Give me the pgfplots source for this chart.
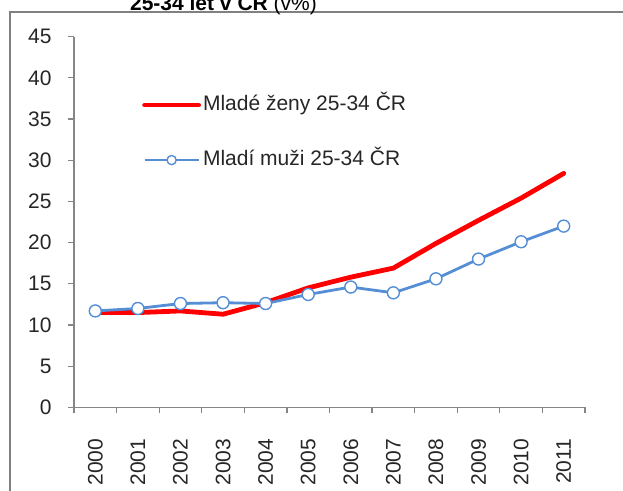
\documentclass[border=0pt]{standalone}
\usepackage{fontspec}
\setmainfont{Liberation Sans}
\usepackage{pgfplots}
\pgfplotsset{compat=1.18}
\definecolor{zeny}{HTML}{FF0000}
\definecolor{muzi}{HTML}{558ED5}
\definecolor{osa}{HTML}{868686}
\definecolor{ramec}{HTML}{808080}
\begin{document}
\begin{tikzpicture}
\useasboundingbox (0,0) rectangle (311.5pt,245.5pt);
\clip (0,0) rectangle (311.5pt,245.5pt);
\draw[color=ramec, line width=1pt] (5pt,-2pt) -- (5pt,239.35pt) -- (314pt,239.35pt);
\node[anchor=base, font=\fontsize{10.5}{12}\selectfont, inner sep=0pt]
  at (111.75pt,240pt) {\textbf{25-34 let v ČR} (v\%)};
\begin{axis}[
    at={(37pt,41.85pt)}, anchor=south west,
    scale only axis, width=255.5pt, height=185.3pt,
    xmin=-0.5, xmax=11.5, ymin=0, ymax=45,
    axis x line=bottom, axis y line=left,
    axis line style={-, draw=osa, line width=0.6pt},
    tick align=outside,
    xtick={0,...,11},
    xticklabels={2000,2001,2002,2003,2004,2005,2006,2007,2008,2009,2010,2011},
    major x tick style={draw=none},
    minor xtick={-0.5,0.5,...,11.5},
    minor tick length=3pt,
    minor x tick style={draw=osa, line width=0.6pt},
    ytick={0,5,...,45},
    ytick style={draw=osa, line width=0.6pt},
    major tick length=3pt,
    tick label style={font=\fontsize{10.5}{12}\selectfont, text=black!85},
    /pgf/number format/assume math mode=true,
    xticklabel style={rotate=90, anchor=east, inner sep=0pt, xshift=-12.5pt},
    yticklabel style={anchor=east, inner sep=0pt, xshift=-8pt},
    legend cell align=left,
    legend style={draw=none, fill=none, at={(0.121,0.853)}, anchor=north west,
        font=\fontsize{10.5}{12}\selectfont, text=black!85,
        row sep=18pt, column sep=1pt,
        nodes={inner sep=0pt, text height=7.5pt, text depth=2pt}},
    legend image code/.code={
        \draw[mark repeat=2, mark phase=2, mark size=2.3pt] plot coordinates {(0pt,0pt) (13.5pt,0pt) (27pt,0pt)};},
]
\addplot[color=zeny, line width=2.4pt, line join=round, line cap=round] coordinates {
(0,11.5) (1,11.5) (2,11.7) (3,11.3) (4,12.7) (5,14.5) (6,15.8) (7,16.9) (8,19.9) (9,22.7) (10,25.4) (11,28.4)};
\addlegendentry{Mladé ženy 25-34 ČR}
\addplot[color=muzi, line width=1.4pt, mark=*, mark size=3pt,
    mark options={fill=white, draw=muzi, line width=0.7pt}] coordinates {
(0,11.7) (1,12.0) (2,12.6) (3,12.7) (4,12.6) (5,13.7) (6,14.6) (7,13.9) (8,15.6) (9,18.0) (10,20.1) (11,22.0)};
\addlegendentry{Mladí muži 25-34 ČR}
\end{axis}
\end{tikzpicture}
\end{document}
